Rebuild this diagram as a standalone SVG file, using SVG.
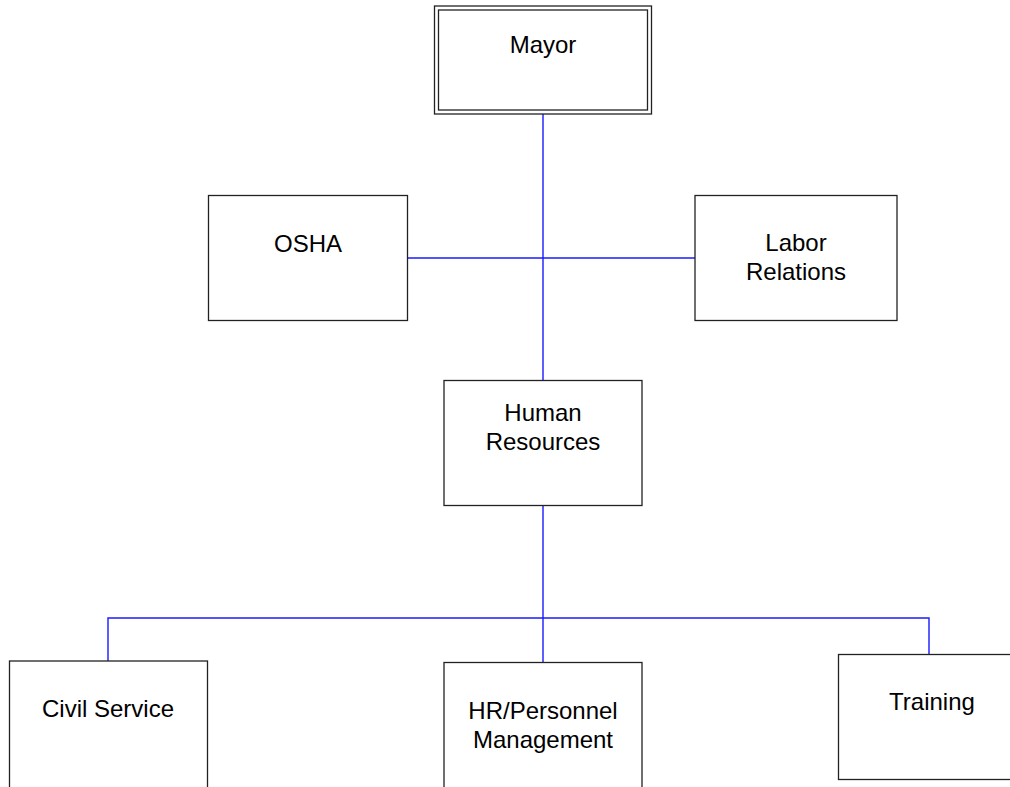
<svg xmlns="http://www.w3.org/2000/svg" width="1010" height="787" viewBox="0 0 1010 787">
<style>
.box{fill:#fff;stroke:#222;stroke-width:1.3}
.lbl{font-family:"Liberation Sans",Arial,sans-serif;font-size:24px;fill:#000;text-anchor:middle}
.conn{fill:none;stroke:#1a1aff;stroke-width:1.4}
</style>
<rect width="1010" height="787" fill="#fff"/>
<g id="connectors">
<path class="conn" d="M543,114 V380"/>
<path class="conn" d="M407,258 H695"/>
<path class="conn" d="M543,506 V662"/>
<path class="conn" d="M108,661 V618 H929 V654"/>
</g>
<g id="mayor">
<rect class="box" x="434.5" y="6" width="217" height="108"/>
<rect class="box" x="438.5" y="10" width="209" height="100"/>
<text class="lbl" x="543" y="53">Mayor</text>
</g>
<g id="osha">
<rect class="box" x="208.5" y="195.5" width="199" height="125"/>
<text class="lbl" x="308" y="252">OSHA</text>
</g>
<g id="labor">
<rect class="box" x="695" y="195.5" width="202" height="125"/>
<text class="lbl" x="796" y="251">Labor</text>
<text class="lbl" x="796" y="280">Relations</text>
</g>
<g id="hr">
<rect class="box" x="444" y="380.5" width="198" height="125"/>
<text class="lbl" x="543" y="421">Human</text>
<text class="lbl" x="543" y="450">Resources</text>
</g>
<g id="civil">
<rect class="box" x="9.5" y="661" width="198" height="140"/>
<text class="lbl" x="108" y="717">Civil Service</text>
</g>
<g id="hrpm">
<rect class="box" x="444" y="662.5" width="198" height="140"/>
<text class="lbl" x="543" y="719">HR/Personnel</text>
<text class="lbl" x="543" y="748">Management</text>
</g>
<g id="training">
<rect class="box" x="838.5" y="654.5" width="188" height="125"/>
<text class="lbl" x="932" y="710">Training</text>
</g>
</svg>
